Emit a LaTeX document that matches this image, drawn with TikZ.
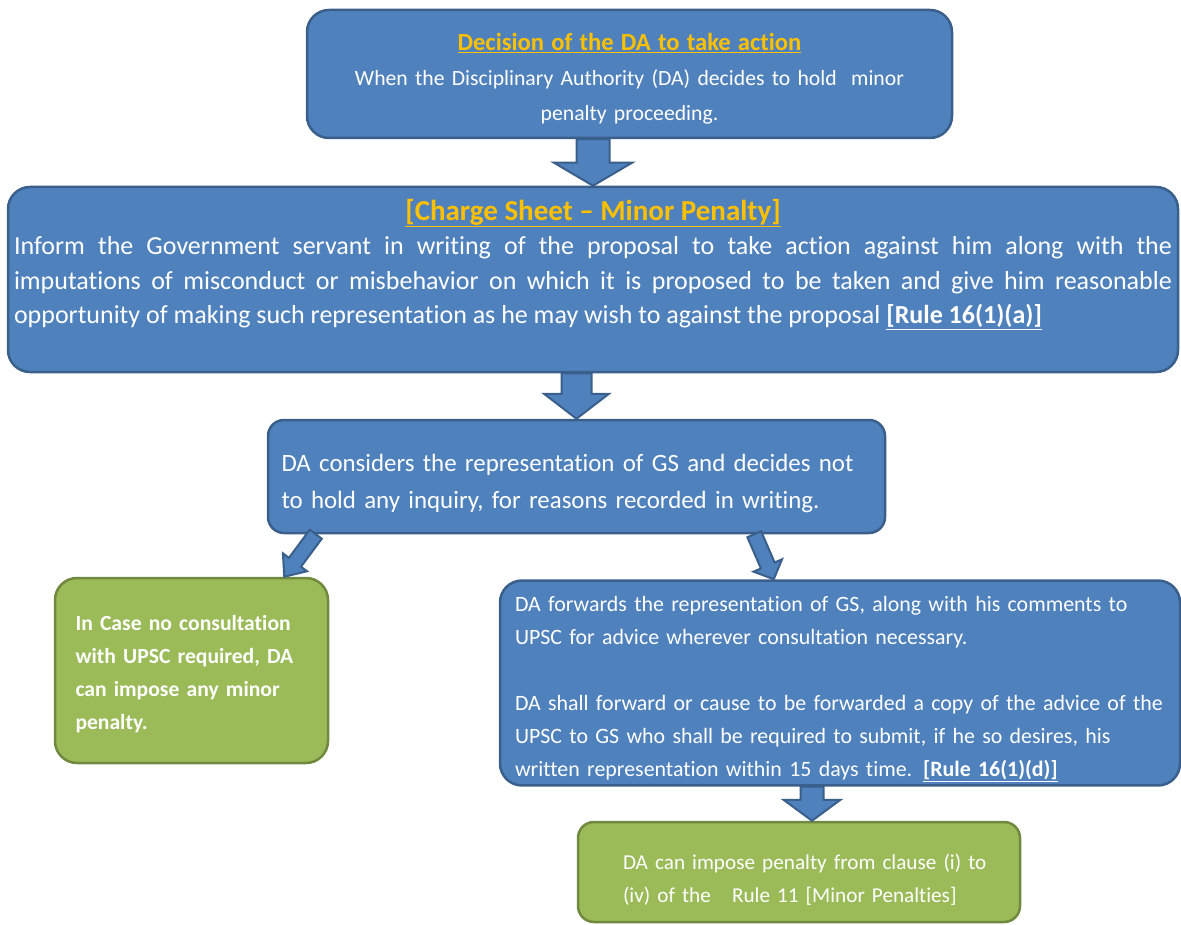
\documentclass[tikz,border=0pt]{standalone}
\usepackage{fontspec}
\setmainfont{Carlito}[Ligatures={TeX,NoCommon}]
\usetikzlibrary{calc}
\definecolor{boxblue}{HTML}{4F81BD}
\definecolor{boxline}{HTML}{3A5F8B}
\definecolor{titlegold}{HTML}{FFC000}
\definecolor{boxgreen}{HTML}{9BBB59}
\definecolor{greenline}{HTML}{71893F}

% shaft half width, head half width, head length, from, to
\newcommand{\blockarrow}[5]{%
  \coordinate (ba-h) at ($(#5)!#3!(#4)$);
  \filldraw[bigarrow]
    ($(#4)!#1!90:(#5)$) -- ($(ba-h)!#1!90:(#5)$) -- ($(ba-h)!#2!90:(#5)$) -- (#5)
    -- ($(ba-h)!#2!-90:(#5)$) -- ($(ba-h)!#1!-90:(#5)$) -- ($(#4)!#1!-90:(#5)$) -- cycle;
}

\begin{document}
\begin{tikzpicture}[x=1pt, y=-1pt,
    bluebox/.style={draw=boxline, fill=boxblue, line width=2.5pt, rounded corners=22pt,
        text=white},
    greenbox/.style={draw=greenline, fill=boxgreen, line width=2.5pt, rounded corners=22pt,
        text=white},
    bigarrow/.style={draw=boxline, fill=boxblue, line width=2pt}]
    \useasboundingbox (0,0) rectangle (1181,925);

    \node[bluebox, minimum width=645pt, minimum height=128pt, text width=620pt, align=center,
        font=\fontsize{21.7}{35}\selectfont] (decision) at (629.5,74)
        {{\rule{0pt}{27pt}\fontsize{24.6}{33}\selectfont\bfseries\color{titlegold}\underline{Decision of the DA to take action}\par}
         When the Disciplinary Authority (DA) decides to hold\ \ minor\\ penalty proceeding.};

    \node[bluebox, minimum width=1170pt, minimum height=185pt, text width=1158pt, align=justify,
        font=\fontsize{26}{34.5}\selectfont] (charge) at (593,279.5)
        {{\centering\fontsize{29}{36}\selectfont\bfseries\color{titlegold}\underline{[Charge Sheet -- Minor Penalty]}\par}
         Inform the Government servant in writing of the proposal to take action against him along with the\linebreak
         imputations of misconduct or misbehavior on which it is proposed to be taken and give him reasonable\linebreak
         opportunity of making such representation as he may wish to against the proposal \textbf{\underline{[Rule 16(1)(a)]}}\par
         \vspace{30pt}};

    \node[bluebox, minimum width=617pt, minimum height=113pt, text width=590pt, align=left,
        rounded corners=16pt, font=\fontsize{24.9}{37}\selectfont] (noinquiry) at (576.5,476.5)
        {\rule{0pt}{32pt}DA considers the representation of GS and decides not\\
         to hold any inquiry, for reasons recorded in writing.};

    \node[greenbox, minimum width=273pt, minimum height=185pt, text width=232pt, align=left,
        font=\fontsize{21.6}{33}\selectfont\bfseries] (noupsc) at (191.5,670.5)
        {\rule{0pt}{23pt}In Case no consultation\\ with UPSC required, DA\\ can impose any minor\\ penalty.};

    \node[bluebox, minimum width=680pt, minimum height=200pt, text width=650pt, align=left,
        font=\fontsize{21.9}{33}\selectfont] (upsc) at (840,683)
        {\rule{0pt}{28pt}DA forwards the representation of GS, along with his comments to\\
         UPSC for advice wherever consultation necessary.\\[33pt]
         DA shall forward or cause to be forwarded a copy of the advice of the\\
         UPSC to GS who shall be required to submit, if he so desires, his\\
         written representation within 15 days time. \textbf{\underline{[Rule 16(1)(d)]}}};

    \node[greenbox, minimum width=442pt, minimum height=100pt, text width=400pt, align=left,
        rounded corners=16pt, font=\fontsize{21.2}{33}\selectfont] (penalty) at (799,872)
        {\rule{0pt}{31pt}\hspace*{24pt}DA can impose penalty from clause (i) to\\
         \hspace*{24pt}(iv) of the\ \ \ Rule 11 [Minor Penalties]};

    % arrows between the boxes
    \coordinate (left-s) at ($(noinquiry.south west)+(49,0)$);
    \coordinate (left-e) at ($(noupsc.north east)+(-45,0)$);
    \coordinate (right-s) at ($(noinquiry.south east)+(-132,0)$);
    \coordinate (right-e) at ($(upsc.north west)+(275,0)$);
    \coordinate (down-e) at ($(penalty.north)+(13,0)$);

    \blockarrow{16.5pt}{39pt}{23pt}{decision.south -| charge.north}{charge.north}
    \blockarrow{15pt}{32.5pt}{25pt}{charge.south -| noinquiry.north}{noinquiry.north}
    \blockarrow{7.5pt}{15pt}{18pt}{left-s}{left-e}
    \blockarrow{7.5pt}{15.5pt}{15pt}{right-s}{right-e}
    \blockarrow{11.5pt}{28.5pt}{21pt}{upsc.south -| down-e}{down-e}
\end{tikzpicture}
\end{document}
